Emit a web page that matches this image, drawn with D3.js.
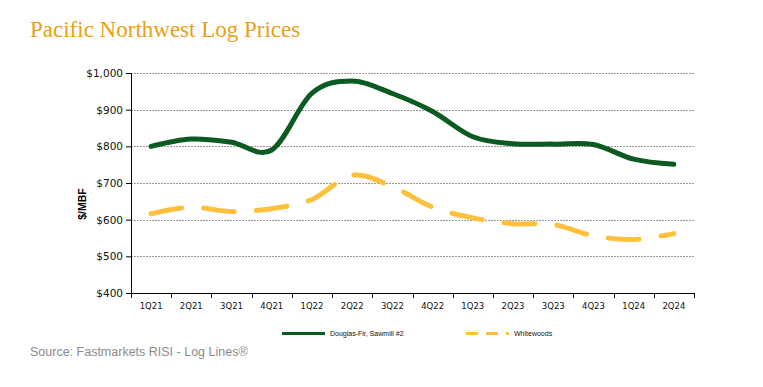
<!DOCTYPE html>
<html>
<head>
<meta charset="utf-8">
<script src="https://cdn.jsdelivr.net/npm/d3@7"></script>
<style>
  body { margin: 0; background: #fff; }
  svg { display: block; }
</style>
</head>
<body>
<div id="chart"></div>
<script>
// quarters and prices in $/MBF
const quarters = ['1Q21', '2Q21', '3Q21', '4Q21', '1Q22', '2Q22', '3Q22', '4Q22', '1Q23', '2Q23', '3Q23', '4Q23', '1Q24', '2Q24'];
const douglasFir = [800, 820, 811, 790, 945, 978, 944, 895, 826, 807, 806, 805, 765, 751];
const whitewoods = [616, 634, 622, 630, 655, 721, 690, 634, 605, 589, 587, 556, 546, 562];
const yTicks = [400, 500, 600, 700, 800, 900, 1000];

const config = {
    width: 763,
    height: 387,
    margin: {top: 73, right: 69, bottom: 94, left: 131},
    green: '#0b5a22',
    yellow: '#ffc13d'
};

const svg = d3.select('#chart').append('svg')
    .attr('width', config.width)
    .attr('height', config.height);

const innerW = config.width - config.margin.left - config.margin.right;
const innerH = config.height - config.margin.top - config.margin.bottom;

const x = d3.scaleBand()
    .domain(quarters)
    .range([0, innerW]);

const y = d3.scaleLinear()
    .domain([400, 1000])
    .range([innerH, 0]);

// title
svg.append('text')
    .attr('x', 30)
    .attr('y', 37)
    .attr('font-family', 'Liberation Serif, serif')
    .attr('font-size', 23)
    .attr('fill', '#e9a013')
    .text('Pacific Northwest Log Prices');

const g = svg.append('g')
    .attr('transform', `translate(${config.margin.left},${config.margin.top})`);

// dotted gridlines
g.append('g')
    .selectAll('line')
    .data(yTicks.filter(d => d > 400))
    .enter().append('line')
    .attr('x1', 0)
    .attr('x2', innerW)
    .attr('y1', d => Math.round(y(d)) + 0.5)
    .attr('y2', d => Math.round(y(d)) + 0.5)
    .attr('stroke', '#9a9a9a')
    .attr('stroke-width', 1)
    .attr('stroke-dasharray', '2,1');

// y axis
const yAxis = d3.axisLeft(y)
    .tickValues(yTicks)
    .tickSize(5)
    .tickPadding(3)
    .tickFormat(d => '$' + d3.format(',')(d));

g.append('g')
    .attr('class', 'y-axis')
    .call(yAxis)
    .call(a => a.select('.domain').attr('d', `M-5,0.5H0.5V${innerH}`))
    .call(a => a.selectAll('.tick line').attr('stroke', '#000'))
    .call(a => a.selectAll('text')
        .attr('font-family', 'DejaVu Sans, sans-serif')
        .attr('font-size', 10.5)
        .attr('fill', '#111'));

// x axis, ticks sit on band boundaries
const xAxis = d3.axisBottom(x).tickSize(0).tickPadding(10);

const xg = g.append('g')
    .attr('class', 'x-axis')
    .attr('transform', `translate(0,${innerH})`)
    .call(xAxis)
    .call(a => a.select('.domain').attr('d', `M0,0.5H${innerW}`).attr('stroke', '#000'))
    .call(a => a.selectAll('text')
        .attr('font-family', 'DejaVu Sans, sans-serif')
        .attr('font-size', 8.5)
        .attr('fill', '#111'));

xg.selectAll('.boundary')
    .data(quarters.concat(['end']))
    .enter().append('line')
    .attr('class', 'boundary')
    .attr('x1', (d, i) => Math.round(i * x.step()) + 0.5)
    .attr('x2', (d, i) => Math.round(i * x.step()) + 0.5)
    .attr('y1', 0)
    .attr('y2', 5)
    .attr('stroke', '#000');

// y axis title
svg.append('text')
    .attr('transform', 'translate(86,204) rotate(-90)')
    .attr('text-anchor', 'middle')
    .attr('font-family', 'Liberation Sans, Arial, sans-serif')
    .attr('font-weight', 'bold')
    .attr('font-size', 10.5)
    .attr('fill', '#000')
    .text('$/MBF');

// smoothed lines, similar to spreadsheet smoothing
const line = d3.line()
    .x((d, i) => x(quarters[i]) + x.bandwidth() / 2)
    .y(d => y(d))
    .curve(d3.curveCardinal.tension(0));

g.append('path')
    .datum(whitewoods)
    .attr('d', line)
    .attr('fill', 'none')
    .attr('stroke', config.yellow)
    .attr('stroke-width', 5)
    .attr('stroke-linecap', 'round')
    .attr('stroke-dasharray', '31,22');

g.append('path')
    .datum(douglasFir)
    .attr('d', line)
    .attr('fill', 'none')
    .attr('stroke', config.green)
    .attr('stroke-width', 5)
    .attr('stroke-linecap', 'round');

// legend
const legend = svg.append('g')
    .attr('transform', 'translate(0,333.5)');

const legendItems = [
    {name: 'Douglas-Fir, Sawmill #2', color: config.green, dash: null, x: 282},
    {name: 'Whitewoods', color: config.yellow, dash: '12,8', x: 466}
];

legendItems.forEach(item => {
    legend.append('line')
        .attr('x1', item.x)
        .attr('x2', item.x + 43)
        .attr('stroke', item.color)
        .attr('stroke-width', 3)
        .attr('stroke-dasharray', item.dash);
    legend.append('text')
        .attr('x', item.x + 48)
        .attr('y', 2.5)
        .attr('font-family', 'Liberation Sans, Arial, sans-serif')
        .attr('font-size', 7)
        .attr('fill', '#111')
        .text(item.name);
});

// source note
svg.append('text')
    .attr('x', 30)
    .attr('y', 356)
    .attr('font-family', 'Liberation Sans, Arial, sans-serif')
    .attr('font-size', 12.5)
    .attr('fill', '#8c8c8c')
    .text('Source: Fastmarkets RISI - Log Lines®');
</script>
</body>
</html>
